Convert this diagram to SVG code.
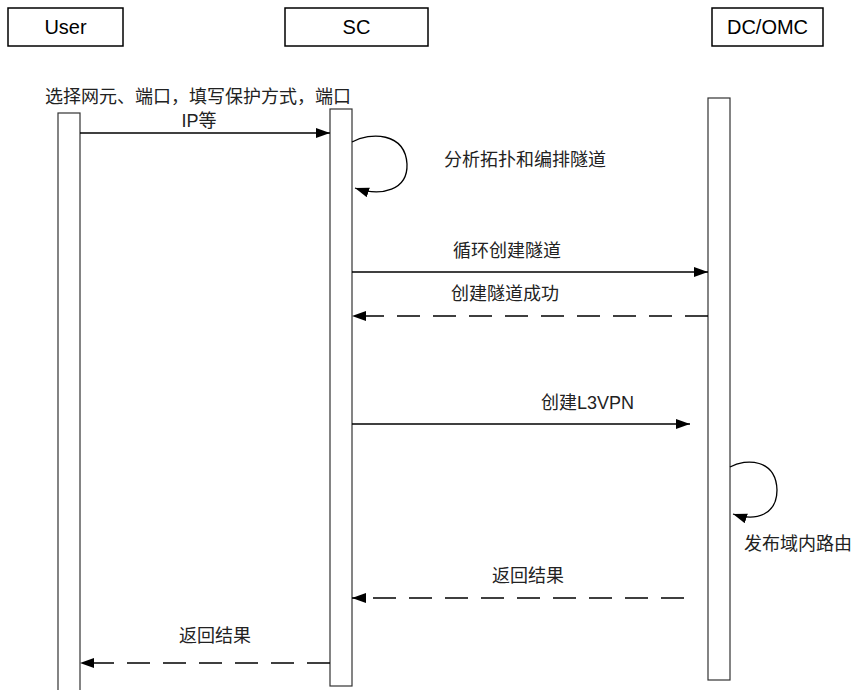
<svg xmlns="http://www.w3.org/2000/svg" width="861" height="690" viewBox="0 0 861 690">
<style>
.box{fill:#fff;stroke:#000;stroke-width:1.5}
.bar{fill:#fff;stroke:#333;stroke-width:1.2}
.lbl{font-family:"Liberation Sans",Arial,sans-serif;font-size:20px;fill:#000}
.t{font-family:"Liberation Sans","Noto Sans CJK SC",sans-serif;font-size:18px;fill:#222}
.msg{fill:none;stroke:#000;stroke-width:1.3}
.dash{stroke-dasharray:23 13}
</style>
<defs>
<marker id="ah" markerUnits="userSpaceOnUse" markerWidth="16" markerHeight="12" refX="14" refY="5" orient="auto">
<path d="M0,0 L14,5 L0,10 z" fill="#000"/>
</marker>
</defs>
<g id="user">
<rect class="box" x="8" y="8" width="115" height="38"/>
<text class="lbl" x="65.5" y="34" text-anchor="middle">User</text>
<rect class="bar" x="58" y="113" width="22" height="580"/>
</g>
<g id="sc">
<rect class="box" x="285" y="8" width="143" height="38"/>
<text class="lbl" x="356.5" y="34" text-anchor="middle">SC</text>
<rect class="bar" x="330" y="109" width="22" height="577"/>
</g>
<g id="dcomc">
<rect class="box" x="712" y="8" width="111" height="38"/>
<text class="lbl" x="767.5" y="34" text-anchor="middle">DC/OMC</text>
<rect class="bar" x="708" y="98" width="22" height="582"/>
</g>
<g id="connectors">
<path class="msg" d="M80,133 H330" marker-end="url(#ah)"/>
<path class="msg" d="M352,142 C370,132 405,132 407,164 C408,190 382,197 355,188" marker-end="url(#ah)"/>
<path class="msg" d="M352,272 H708" marker-end="url(#ah)"/>
<path class="msg dash" d="M708,316 H352" marker-end="url(#ah)"/>
<path class="msg" d="M352,424 H690" marker-end="url(#ah)"/>
<path class="msg" d="M730,467 C746,458 776,459 777,490 C777,514 757,522 733,514" marker-end="url(#ah)"/>
<path class="msg dash" d="M684,598 H352" marker-end="url(#ah)"/>
<path class="msg dash" d="M330,663 H80" marker-end="url(#ah)"/>
</g>
<g id="labels">
<text class="t" x="198" y="103" text-anchor="middle">选择网元、端口，填写保护方式，端口</text>
<text class="t" x="199" y="127" text-anchor="middle">IP等</text>
<text class="t" x="444" y="166">分析拓扑和编排隧道</text>
<text class="t" x="453" y="257">循环创建隧道</text>
<text class="t" x="451" y="300">创建隧道成功</text>
<text class="t" x="541" y="409">创建L3VPN</text>
<text class="t" x="744" y="550">发布域内路由</text>
<text class="t" x="492" y="582">返回结果</text>
<text class="t" x="179" y="642">返回结果</text>
</g>
</svg>
